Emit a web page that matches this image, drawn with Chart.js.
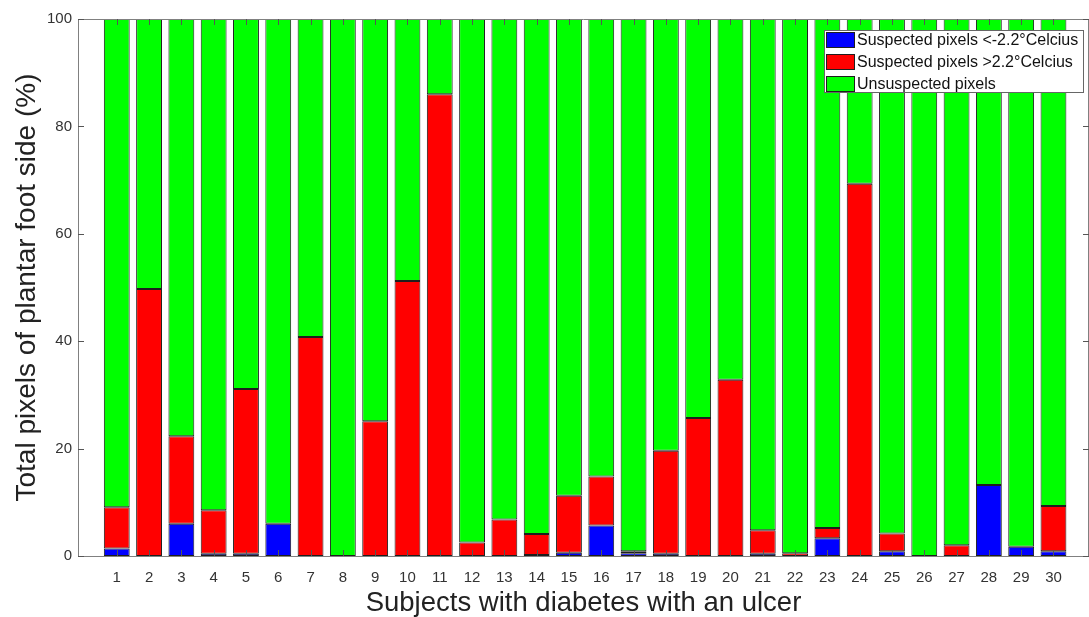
<!DOCTYPE html>
<html>
<head>
<meta charset="utf-8">
<script src="https://cdn.jsdelivr.net/npm/chart.js@4.4.1/dist/chart.umd.min.js"></script>
<style>
  html, body { margin: 0; padding: 0; background: #ffffff; overflow: hidden; }
  #wrap { width: 1089px; height: 617px; }
</style>
</head>
<body>
<div id="wrap"><canvas id="c" width="1089" height="617"></canvas></div>
<script>
// ---- data ----
const subjects = [1,2,3,4,5,6,7,8,9,10,11,12,13,14,15,16,17,18,19,20,21,22,23,24,25,26,27,28,29,30];
const bluePct  = [1.4,0,6.0,0.4,0.4,6.0,0,0,0,0,0,0,0,0.2,0.6,5.7,0.5,0.4,0,0,0.4,0,3.3,0,0.9,0,0,13.2,1.7,0.9];
const redPct   = [7.7,49.7,16.3,8.1,30.7,0,40.8,0,25.1,51.2,86.0,2.5,6.8,3.9,10.6,9.1,0.4,19.2,25.7,32.8,4.4,0.5,1.9,69.3,3.3,0,2.0,0,0,8.4];
const greenPct = [90.9,50.3,77.7,91.5,68.9,94.0,59.2,100,74.9,48.8,14.0,97.5,93.2,95.9,88.8,85.2,99.1,80.4,74.3,67.2,95.2,99.5,94.8,30.7,95.8,100,98.0,86.8,98.3,90.7];
const seriesNames = ['Suspected pixels <-2.2\u00B0Celcius', 'Suspected pixels >2.2\u00B0Celcius', 'Unsuspected pixels'];
const yTicks = [0, 20, 40, 60, 80, 100];
const xTicks = subjects;

const FONT = '"Liberation Sans", Arial, sans-serif';
const AXIS_COLOR = '#808080';
const TEXT_COLOR = '#333333';

function pts(arr) { return arr.map((v, i) => ({ x: subjects[i], y: v })); }

const barStyle = {
  borderColor: '#1e1e1e',
  borderWidth: 1,
  borderSkipped: false,
  barPercentage: 0.8,
  categoryPercentage: 1.0
};

// custom plugin: axis box, inward ticks, legend box
const matlabAxes = {
  id: 'matlabAxes',
  afterDatasetsDraw(chart) {
    const { ctx, chartArea: a, scales: { x, y } } = chart;
    ctx.save();
    ctx.strokeStyle = AXIS_COLOR;
    ctx.lineWidth = 1;
    // box
    ctx.beginPath();
    ctx.moveTo(a.left + 0.5, a.bottom + 0.5);
    ctx.lineTo(a.left + 0.5, a.top + 0.5);
    ctx.lineTo(a.right - 0.5, a.top + 0.5);
    ctx.lineTo(a.right - 0.5, a.bottom + 0.5);
    ctx.lineTo(a.left + 0.5, a.bottom + 0.5);
    ctx.stroke();
    // ticks
    ctx.strokeStyle = '#555555';
    ctx.beginPath();
    const tl = 6;
    xTicks.forEach(v => {
      const px = Math.round(x.getPixelForValue(v)) + 0.5;
      ctx.moveTo(px, a.bottom); ctx.lineTo(px, a.bottom - tl);
      ctx.moveTo(px, a.top); ctx.lineTo(px, a.top + tl);
    });
    yTicks.forEach(v => {
      const py = Math.round(y.getPixelForValue(v)) + 0.5;
      ctx.moveTo(a.left, py); ctx.lineTo(a.left + tl, py);
      ctx.moveTo(a.right, py); ctx.lineTo(a.right - tl, py);
    });
    ctx.stroke();

    // legend
    const lx = 824, ly = 30, lw = 259, lh = 62;
    ctx.fillStyle = '#ffffff';
    ctx.fillRect(lx, ly, lw, lh);
    ctx.strokeStyle = '#666666';
    ctx.strokeRect(lx + 0.5, ly + 0.5, lw, lh);
    ctx.font = '16px ' + FONT;
    ctx.textBaseline = 'middle';
    ctx.textAlign = 'left';
    chart.data.datasets.forEach((ds, i) => {
      const rowY = ly + 10 + i * 22;
      ctx.fillStyle = ds.backgroundColor;
      ctx.fillRect(lx + 2, rowY - 8, 29, 16);
      ctx.strokeStyle = '#1e1e1e';
      ctx.strokeRect(lx + 2.5, rowY - 7.5, 28, 15);
      ctx.fillStyle = '#111111';
      ctx.fillText(ds.label, lx + 33, rowY + 1);
    });
    ctx.restore();
  }
};

new Chart(document.getElementById('c'), {
  type: 'bar',
  data: {
    datasets: [
      Object.assign({ label: seriesNames[0], data: pts(bluePct),  backgroundColor: '#0000ff' }, barStyle),
      Object.assign({ label: seriesNames[1], data: pts(redPct),   backgroundColor: '#ff0000' }, barStyle),
      Object.assign({ label: seriesNames[2], data: pts(greenPct), backgroundColor: '#00ff00' }, barStyle)
    ]
  },
  options: {
    responsive: false,
    devicePixelRatio: 1,
    animation: false,
    layout: { padding: { top: 19, right: 0, left: 0, bottom: 0 } },
    plugins: { legend: { display: false }, tooltip: { enabled: false } },
    scales: {
      x: {
        type: 'linear',
        offset: false,
        stacked: true,
        min: -0.2,
        max: 31.1,
        afterBuildTicks: s => { s.ticks = xTicks.map(v => ({ value: v })); },
        afterFit: s => { s.height = 61; },
        grid: { display: false, drawTicks: false },
        border: { display: false },
        ticks: { color: TEXT_COLOR, font: { family: FONT, size: 15 }, padding: 13, maxRotation: 0, autoSkip: false },
        title: { display: true, text: 'Subjects with diabetes with an ulcer', color: '#222222', font: { family: FONT, size: 27.5, lineHeight: 1 }, padding: { top: 0, bottom: 0 } }
      },
      y: {
        stacked: true,
        min: 0,
        max: 100,
        afterBuildTicks: s => { s.ticks = yTicks.map(v => ({ value: v })); },
        afterFit: s => { s.width = 78; },
        grid: { display: false, drawTicks: false },
        border: { display: false },
        ticks: { color: TEXT_COLOR, font: { family: FONT, size: 15 }, padding: 6 },
        title: { display: true, text: 'Total pixels of plantar foot side (%)', color: '#222222', font: { family: FONT, size: 28, lineHeight: 1 }, padding: { top: 13, bottom: 0 } }
      }
    }
  },
  plugins: [matlabAxes]
});
</script>
</body>
</html>
